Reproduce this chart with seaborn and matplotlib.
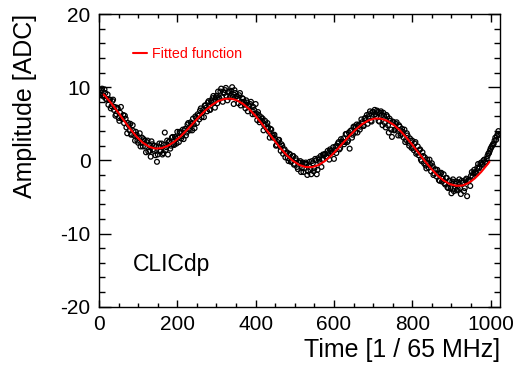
import matplotlib
matplotlib.use("Agg")
import matplotlib.pyplot as plt
from matplotlib.ticker import MultipleLocator
import pandas as pd
import seaborn as sns

# ---- data ----
# samples at time bins 0, 4, 8, ...
amplitude_a = [
    9.7, 8.9, 9.8, 8.7, 9.2, 8.3, 7.6, 8.3, 7.4, 8.3, 7.3, 6.3, 7.1, 5.4, 7.3, 5.7,
    5.1, 5.7, 3.7, 4.8, 5.0, 3.6, 4.0, 2.7, 3.5, 2.4, 3.7, 2.4, 1.9, 2.7, 1.1, 2.7,
    2.1, 0.5, 2.2, 1.3, 0.7, -0.2, 1.9, 1.2, 2.3, 1.0, 3.8, 1.8, 0.8, 2.6, 2.0, 3.2,
    2.1, 3.0, 3.9, 2.5, 3.8, 3.3, 2.9, 4.3, 3.8, 5.1, 4.1, 5.0, 5.7, 4.4, 5.8, 6.3,
    5.6, 7.1, 6.5, 5.9, 7.5, 6.7, 8.1, 6.9, 7.9, 8.8, 7.2, 8.8, 9.4, 8.4, 9.8, 8.0,
    9.2, 9.9, 8.2, 9.4, 8.8, 10.0, 7.7, 9.2, 8.8, 7.8, 9.2, 8.0, 8.4, 7.6, 8.2, 6.7,
    7.5, 8.0, 6.3, 6.9, 7.7, 5.5, 6.2, 5.5, 5.4, 4.1, 5.4, 4.4, 4.5, 3.1, 4.2, 3.1,
    3.5, 2.0, 2.5, 2.8, 1.3, 2.0, 1.4, 0.4, 1.1, -0.1, 0.8, -0.1, 0.6, -0.5, 0.0, -1.2,
    -0.3, -1.6, -0.3, -1.1, -0.3, -2.0, -0.7, -1.3, -0.1, -1.5, 0.2, -1.9, 0.3, -0.2, -0.9, 0.8,
    0.8, 0.5, 1.3, 0.1, 1.3, 1.1, 0.2, 1.9, 2.0, 2.5, 1.7, 2.6, 3.0, 2.5, 3.6, 2.7,
    1.6, 4.1, 3.5, 4.6, 4.6, 3.8, 4.9, 4.6, 5.2, 4.7, 5.8, 6.2, 5.9, 6.7, 5.3, 6.6,
    6.9, 6.0, 6.6, 5.3, 6.7, 4.8, 6.1, 4.5, 6.0, 3.8, 5.4, 3.2, 5.2, 4.2, 5.2, 3.4,
    4.6, 3.6, 3.9, 4.2, 2.8, 3.4, 2.0, 2.7, 2.7, 1.4, 2.5, 1.1, 0.7, 1.5, -0.1, 0.6,
    0.4, -1.1, -0.3, 0.1, -1.5, -0.8, -1.8, -1.3, -1.3, -2.7, -1.8, -2.9, -1.9, -3.3, -2.4, -3.8,
    -2.8, -4.5, -2.6, -3.9, -2.9, -3.9, -2.6, -4.6, -3.1, -4.2, -2.7, -4.9, -2.7, -3.5, -1.6, -1.8,
    -1.6, -1.8, -0.5, -0.9, -0.3, -0.6, 0.1, -0.3, 0.6, 1.0, 1.6, 2.0, 2.3, 3.1, 3.3, 4.0,
]
# samples at time bins 2, 6, 10, ...
amplitude_b = [
    8.9, 9.6, 8.9, 9.7, 8.4, 9.0, 8.3, 7.1, 8.1, 6.9, 6.1, 7.2, 5.8, 6.5, 5.7, 6.2,
    6.1, 4.5, 5.1, 4.1, 3.5, 4.8, 3.4, 3.9, 2.7, 3.1, 1.9, 3.1, 2.9, 1.9, 2.5, 1.2,
    1.3, 2.6, 1.5, 2.0, 1.9, 0.8, 2.3, 1.3, 0.8, 2.1, 1.4, 2.7, 2.5, 1.6, 3.1, 2.2,
    3.2, 2.3, 3.1, 3.9, 3.0, 4.2, 4.1, 3.4, 4.9, 4.3, 5.2, 4.1, 4.9, 6.0, 5.1, 6.1,
    6.8, 5.9, 6.9, 7.5, 7.2, 7.9, 6.9, 8.1, 8.5, 8.0, 8.6, 7.8, 8.6, 9.4, 8.6, 9.3,
    9.6, 8.8, 9.3, 8.6, 9.5, 8.7, 9.6, 8.7, 8.4, 8.9, 7.5, 8.5, 8.0, 7.1, 7.9, 7.4,
    7.7, 6.8, 7.3, 6.3, 6.4, 6.6, 5.2, 5.9, 5.7, 4.8, 4.9, 5.1, 3.9, 4.3, 3.4, 3.4,
    3.0, 2.1, 2.8, 1.9, 2.2, 0.9, 1.5, 1.0, 0.3, 0.9, -0.2, 0.6, -0.6, 0.3, -0.9, -0.3,
    -0.1, -1.0, -1.6, -0.5, -0.5, -1.5, -0.2, -1.9, -0.4, -1.1, 0.0, -1.3, 0.1, 0.6, 0.1, 0.7,
    0.9, 0.5, 1.0, 1.5, 1.1, 1.8, 1.4, 1.0, 2.3, 1.5, 2.9, 2.5, 2.2, 3.6, 2.5, 3.8,
    4.0, 3.1, 4.6, 3.8, 4.9, 4.7, 4.2, 5.6, 4.7, 5.7, 5.5, 5.0, 6.3, 5.4, 6.6, 6.2,
    6.3, 6.8, 5.4, 6.5, 6.2, 6.5, 5.1, 6.2, 4.8, 5.7, 4.2, 5.3, 4.1, 5.0, 4.2, 4.8,
    3.4, 4.3, 3.1, 2.5, 3.7, 2.4, 3.0, 1.7, 1.7, 2.3, 0.9, 1.9, 1.4, 0.1, 1.1, -0.4,
    -0.7, 0.1, -1.0, -0.6, -0.4, -2.0, -1.2, -2.2, -1.8, -2.8, -1.7, -2.5, -3.1, -2.4, -3.7, -2.8,
    -3.8, -2.9, -4.2, -3.2, -4.1, -3.0, -3.8, -2.8, -3.0, -3.8, -2.5, -2.8, -2.7, -2.1, -2.2, -1.3,
    -1.7, -1.0, -1.1, -0.4, -0.5, 0.0, -0.2, 0.2, 0.9, 1.3, 1.8, 2.2, 2.7, 2.8, 3.6, 3.5,
]
time_a = list(range(0, 4 * len(amplitude_a), 4))
time_b = list(range(2, 4 * len(amplitude_b) + 2, 4))

fit_time = [12] + list(range(16, 993, 16)) + [997]
fit_amplitude = [
    9.00, 8.78, 7.76, 6.61, 5.41, 4.26, 3.23, 2.41, 1.85, 1.61, 1.67, 1.99, 2.53,
    3.26, 4.12, 5.05, 5.98, 6.84, 7.56, 8.09, 8.39, 8.44, 8.21, 7.71, 6.98, 6.06,
    4.99, 3.85, 2.71, 1.62, 0.67, -0.10, -0.64, -0.92, -0.93, -0.65, -0.13, 0.60,
    1.47, 2.42, 3.37, 4.23, 4.95, 5.46, 5.71, 5.70, 5.41, 4.87, 4.12, 3.18, 2.13,
    1.02, -0.09, -1.13, -2.04, -2.76, -3.25, -3.48, -3.44, -3.09, -2.45, -1.58,
    -0.54, -0.20,
]

x_ticks_major, x_ticks_minor = 200, 50
y_ticks_major, y_ticks_minor = 10, 2

# ---- style ----
sns.set_style("ticks")
plt.rcParams["font.family"] = ["Liberation Sans", "DejaVu Sans"]
plt.rcParams["axes.unicode_minus"] = False

W, H = 514, 368
fig = plt.figure(figsize=(W / 100, H / 100), dpi=100)
ax = fig.add_axes([99 / W, 1 - 306.7 / H, 401 / W, 292.7 / H])

df = pd.DataFrame({"t": time_a + time_b, "a": amplitude_a + amplitude_b})
fit_df = pd.DataFrame({"t": fit_time, "a": fit_amplitude})

sns.scatterplot(data=df, x="t", y="a", ax=ax, marker="o", s=12,
                color="black", facecolor="none", edgecolor="black",
                linewidth=0.9, legend=False, zorder=2)
sns.lineplot(data=fit_df, x="t", y="a", ax=ax, color="#ff0000", linewidth=1.5,
             label="Fitted function", zorder=3)

ax.set_xlim(0, 1024)
ax.set_ylim(-20, 20)
ax.xaxis.set_major_locator(MultipleLocator(x_ticks_major))
ax.xaxis.set_minor_locator(MultipleLocator(x_ticks_minor))
ax.yaxis.set_major_locator(MultipleLocator(y_ticks_major))
ax.yaxis.set_minor_locator(MultipleLocator(y_ticks_minor))

for sp in ax.spines.values():
    sp.set_visible(True)
    sp.set_color("black")
    sp.set_linewidth(1.0)

ax.tick_params(which="both", direction="in", top=True, right=True,
               color="black", width=1.0, labelsize=15, labelcolor="black", pad=6)
ax.tick_params(axis="y", which="major", length=8.6)
ax.tick_params(axis="y", which="minor", length=4.3)
ax.tick_params(axis="x", which="major", length=5.4)
ax.tick_params(axis="x", which="minor", length=2.9)

ax.set_xlabel("Time [1 / 65 MHz]", fontsize=18, loc="right", color="black")
ax.set_ylabel("Amplitude [ADC]", fontsize=18, loc="top", color="black")
ax.xaxis.set_label_coords(1.0, -0.107)
ax.yaxis.set_label_coords(-0.155, 1.0)

ax.text(87, -14.3, "CLICdp", fontsize=16.5, va="center", ha="left", color="black")

ax.legend(loc="center left", bbox_to_anchor=((133 - 99) / 401, (306.7 - 54) / 292.7),
          frameon=False, fontsize=10.3, handlelength=1.0, handletextpad=0.35,
          borderpad=0, borderaxespad=0, labelcolor="#ff0000")

fig.savefig("out.png", dpi=100)
